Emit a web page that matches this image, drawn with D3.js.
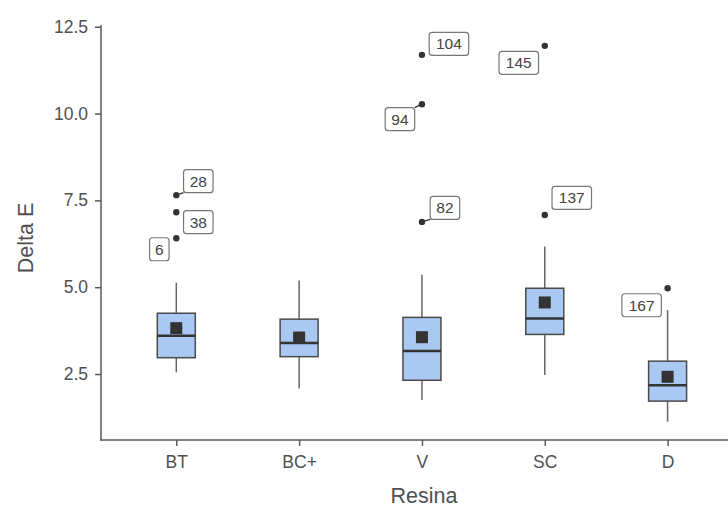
<!DOCTYPE html>
<html>
<head>
<meta charset="utf-8">
<script src="https://cdn.jsdelivr.net/npm/d3@7"></script>
<style>
  body { margin: 0; background: #fff; }
  svg text { font-family: "Liberation Sans", Arial, sans-serif; }
</style>
</head>
<body>
<div id="chart"></div>
<script>
// Categories and box statistics
const resinas = ["BT", "BC+", "V", "SC", "D"];
const whiskerLow = [2.55, 2.08, 1.75, 2.47, 1.13];
const q1 = [2.97, 3.00, 2.32, 3.64, 1.72];
const medians = [3.60, 3.39, 3.16, 4.10, 2.18];
const q3 = [4.25, 4.08, 4.13, 4.97, 2.87];
const whiskerHigh = [5.13, 5.19, 5.36, 6.17, 4.34];
const means = [3.82, 3.55, 3.56, 4.56, 2.42];

// Outliers: group, value, observation id
const outGroup = ["BT", "BT", "BT", "V", "V", "V", "SC", "SC", "D"];
const outValue = [7.65, 7.16, 6.41, 11.69, 10.27, 6.88, 11.95, 7.08, 4.97];
const outId = ["28", "38", "6", "104", "94", "82", "145", "137", "167"];

const yTicks = [2.5, 5.0, 7.5, 10.0, 12.5];

// label placement (repel-like nudges in px) and which get a leader segment
const labelNudge = [[22, -14], [22, 10], [-17, 11], [27, -11], [-22, 15], [23, -14], [-26, 17], [27, -17], [-26, 17]];
const withSegment = ["28", "94", "82"];

const width = 728, height = 508;
const svg = d3.select("#chart").append("svg")
    .attr("width", width)
    .attr("height", height);

const x = d3.scalePoint().domain(resinas).range([176.3, 667.6]);
const y = d3.scaleLinear().domain([0.6, 12.55]).range([440, 25]);

const axisColor = "#5a5a5a";
const textColor = "#505050";

// Y axis
const yAxis = svg.append("g")
    .attr("transform", "translate(101,0)")
    .call(d3.axisLeft(y).tickValues(yTicks).tickFormat(d3.format(".1f")).tickSize(6).tickSizeOuter(0));
yAxis.select(".domain").remove();
yAxis.selectAll(".tick line").attr("stroke", axisColor).attr("stroke-width", 1.5);
yAxis.selectAll(".tick text").attr("fill", textColor).style("font-size", "17.5px").attr("x", -13);

svg.append("line")
    .attr("x1", 101).attr("x2", 101)
    .attr("y1", 25).attr("y2", 440.7)
    .attr("stroke", axisColor).attr("stroke-width", 1.5);

// X axis
const xAxis = svg.append("g")
    .attr("transform", "translate(0,440)")
    .call(d3.axisBottom(x).tickSize(6).tickSizeOuter(0));
xAxis.select(".domain").remove();
xAxis.selectAll(".tick line").attr("stroke", axisColor).attr("stroke-width", 1.5);
xAxis.selectAll(".tick text").attr("fill", textColor).style("font-size", "17.5px").attr("y", 16);

svg.append("line")
    .attr("x1", 100.3).attr("x2", 728)
    .attr("y1", 440).attr("y2", 440)
    .attr("stroke", axisColor).attr("stroke-width", 1.5);

// Axis titles
svg.append("text")
    .attr("x", 424).attr("y", 503)
    .attr("text-anchor", "middle")
    .attr("fill", textColor)
    .style("font-size", "21.5px")
    .text("Resina");

svg.append("text")
    .attr("transform", "translate(33,238) rotate(-90)")
    .attr("text-anchor", "middle")
    .attr("fill", textColor)
    .style("font-size", "21.5px")
    .text("Delta E");

// Boxes
const boxW = 38;
const groups = svg.selectAll(".box")
    .data(resinas.map((r, i) => ({
        r, lo: whiskerLow[i], q1: q1[i], med: medians[i], q3: q3[i], hi: whiskerHigh[i], mean: means[i]
    })))
    .enter().append("g")
    .attr("class", "box");

groups.append("line")
    .attr("x1", d => x(d.r)).attr("x2", d => x(d.r))
    .attr("y1", d => y(d.hi)).attr("y2", d => y(d.q3))
    .attr("stroke", "#666").attr("stroke-width", 1.5);

groups.append("line")
    .attr("x1", d => x(d.r)).attr("x2", d => x(d.r))
    .attr("y1", d => y(d.q1)).attr("y2", d => y(d.lo))
    .attr("stroke", "#666").attr("stroke-width", 1.5);

groups.append("rect")
    .attr("x", d => x(d.r) - boxW / 2)
    .attr("width", boxW)
    .attr("y", d => y(d.q3))
    .attr("height", d => y(d.q1) - y(d.q3))
    .attr("fill", "#a9c8f2")
    .attr("stroke", "#4a4a4a")
    .attr("stroke-width", 1.5);

groups.append("rect")
    .attr("x", d => x(d.r) - 6)
    .attr("y", d => y(d.mean) - 6)
    .attr("width", 12).attr("height", 12)
    .attr("fill", "#333");

groups.append("line")
    .attr("x1", d => x(d.r) - boxW / 2).attr("x2", d => x(d.r) + boxW / 2)
    .attr("y1", d => y(d.med)).attr("y2", d => y(d.med))
    .attr("stroke", "#333").attr("stroke-width", 2.5);

// Outliers with labels
const outliers = outId.map((id, i) => {
    const px = x(outGroup[i]), py = y(outValue[i]);
    return { id, px, py, lx: px + labelNudge[i][0], ly: py + labelNudge[i][1] };
});

const labW = d => 9.5 + d.id.length * 10;
const labH = 23;

// leader segments
svg.selectAll(".seg")
    .data(outliers.filter(d => withSegment.includes(d.id)))
    .enter().append("line")
    .attr("class", "seg")
    .attr("x1", d => d.px).attr("y1", d => d.py)
    .attr("x2", d => Math.max(d.lx - labW(d) / 2, Math.min(d.px, d.lx + labW(d) / 2)))
    .attr("y2", d => Math.max(d.ly - labH / 2, Math.min(d.py, d.ly + labH / 2)))
    .attr("stroke", "#333").attr("stroke-width", 1.3);

svg.selectAll(".pt")
    .data(outliers)
    .enter().append("circle")
    .attr("class", "pt")
    .attr("cx", d => d.px).attr("cy", d => d.py)
    .attr("r", 3.2)
    .attr("fill", "#333");

const labs = svg.selectAll(".lab")
    .data(outliers)
    .enter().append("g")
    .attr("class", "lab");

labs.append("rect")
    .attr("x", d => d.lx - labW(d) / 2)
    .attr("y", d => d.ly - labH / 2)
    .attr("width", labW).attr("height", labH)
    .attr("rx", 3)
    .attr("fill", "#fff")
    .attr("stroke", "#777")
    .attr("stroke-width", 1.2);

labs.append("text")
    .attr("x", d => d.lx).attr("y", d => d.ly + 5.5)
    .attr("text-anchor", "middle")
    .attr("fill", "#444")
    .style("font-size", "15.5px")
    .text(d => d.id);
</script>
</body>
</html>
